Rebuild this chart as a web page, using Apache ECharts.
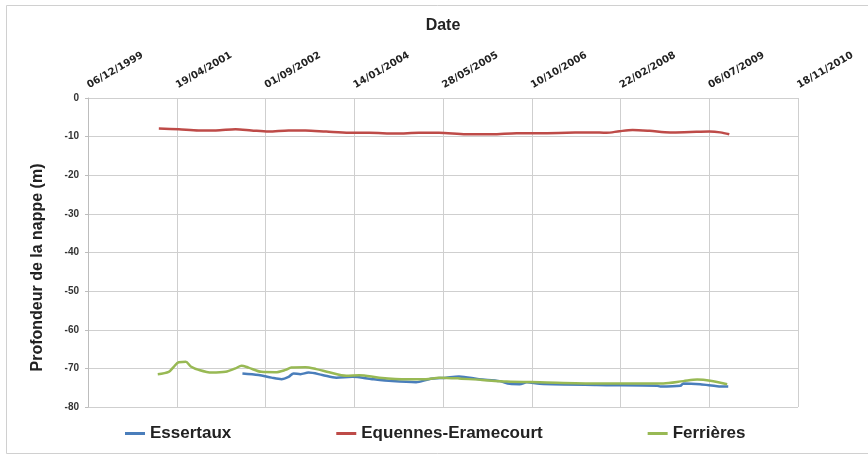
<!DOCTYPE html>
<html><head><meta charset="utf-8">
<script src="https://cdn.jsdelivr.net/npm/echarts@6/dist/echarts.min.js"></script>
<style>html,body{margin:0;padding:0;background:#fff;overflow:hidden}#c{width:868px;height:461px}</style>
</head><body><div id="c"></div>
<script>
// Date tick labels (top axis), every 500 days
const tickLabels = ['06/12/1999','19/04/2001','01/09/2002','14/01/2004','28/05/2005','10/10/2006','22/02/2008','06/07/2009','18/11/2010'];
const yTicks = [0,-10,-20,-30,-40,-50,-60,-70,-80];

const essertauxDates = ['2002-04-24','2002-07-24','2002-10-05','2002-11-30','2003-01-09','2003-02-06','2003-03-17','2003-05-01','2003-07-18','2003-10-05','2004-01-03','2004-04-24','2004-08-14','2004-12-27','2005-03-10','2005-06-14','2005-08-26','2005-12-17','2006-04-13','2006-06-08','2006-08-03','2006-09-12','2006-11-24','2007-10-10','2008-09-16','2008-10-03','2009-01-24','2009-02-10','2009-05-16','2009-08-20','2009-10-21'];
const essertauxValues = [-71.3,-71.7,-72.4,-72.8,-72.2,-71.3,-71.5,-71.1,-71.7,-72.4,-72.2,-72.8,-73.3,-73.6,-72.8,-72.4,-72.1,-72.8,-73.3,-74.0,-74.1,-73.6,-74.0,-74.3,-74.5,-74.7,-74.5,-73.9,-74.1,-74.6,-74.7];

const equennesDates = ['2001-01-08','2001-04-30','2001-08-21','2001-11-25','2002-03-16','2002-06-14','2002-09-18','2003-01-09','2003-04-14','2003-08-09','2003-12-17','2004-04-08','2004-09-05','2005-01-13','2005-05-05','2005-10-05','2006-02-28','2006-07-17','2006-11-24','2007-04-25','2007-09-17','2007-12-05','2008-02-16','2008-04-30','2008-08-03','2008-11-28','2009-03-21','2009-07-06','2009-09-06','2009-10-27'];
const equennesValues = [-7.9,-8.1,-8.4,-8.4,-8.1,-8.4,-8.7,-8.4,-8.4,-8.7,-9.0,-9.0,-9.2,-9.0,-9.0,-9.4,-9.4,-9.1,-9.1,-9.0,-8.9,-9.0,-8.6,-8.3,-8.5,-8.9,-8.8,-8.7,-8.9,-9.4];

const ferrieresDates = ['2001-01-02','2001-03-05','2001-04-02','2001-04-30','2001-06-09','2001-07-07','2001-08-21','2001-11-02','2002-01-19','2002-03-16','2002-04-19','2002-05-28','2002-08-09','2002-10-27','2002-12-23','2003-01-25','2003-04-14','2003-06-14','2003-08-26','2003-11-30','2004-02-11','2004-06-03','2004-11-01','2005-02-21','2005-05-05','2005-08-26','2006-01-03','2006-05-22','2006-11-24','2007-10-10','2008-10-20','2009-02-10','2009-04-29','2009-07-12','2009-10-15'];
const ferrieresValues = [-71.5,-70.9,-69.6,-68.4,-68.3,-69.5,-70.4,-71.1,-70.9,-70.0,-69.3,-69.8,-70.9,-71.0,-70.4,-69.8,-69.7,-70.2,-71.0,-71.9,-71.8,-72.4,-72.8,-72.8,-72.4,-72.6,-73.0,-73.4,-73.6,-73.9,-73.9,-73.3,-72.9,-73.2,-74.1];

const seriesNames = ['Essertaux','Equennes-Eramecourt','Ferrières'];
const colors = ['#4a7ebb','#be4b48','#98b954'];

const EPOCH = Date.UTC(1899,11,30);
function serial(s){const p=s.split('-');return Math.round((Date.UTC(+p[0],+p[1]-1,+p[2])-EPOCH)/86400000);}
function fmt(v){const d=new Date(EPOCH+v*86400000);const dd=String(d.getUTCDate()).padStart(2,'0');const mm=String(d.getUTCMonth()+1).padStart(2,'0');return dd+'/'+mm+'/'+d.getUTCFullYear();}
function pairs(ds,vs){return ds.map((d,i)=>[serial(d),vs[i]]);}

const xMin = serial('1999-12-06'), xMax = serial('2010-11-18');
const chart = echarts.init(document.getElementById('c'));
const font = 'Liberation Sans';
chart.setOption({
  animation:false,
  backgroundColor:'#fff',
  graphic:[{type:'rect',shape:{x:6.5,y:5.5,width:900,height:448},style:{fill:'none',stroke:'#d0d0d0',lineWidth:1},silent:true}],
  grid:{left:88,right:70,top:98,bottom:54},
  legend:{left:120,top:420,itemGap:105,itemWidth:20,itemHeight:3,icon:'rect',
    textStyle:{fontFamily:font,fontWeight:'bold',fontSize:17,color:'#222'},
    data:seriesNames},
  xAxis:{type:'value',position:'top',min:xMin,max:xMax,interval:500,
    name:'Date',nameLocation:'middle',nameGap:64,
    nameTextStyle:{fontFamily:font,fontWeight:'bold',fontSize:16,color:'#222'},
    axisLine:{show:false},axisTick:{show:false},
    axisLabel:{rotate:30,margin:12,fontFamily:'DejaVu Sans',fontWeight:'bold',fontSize:10,color:'#222',formatter:v=>fmt(v)},
    splitLine:{show:true,lineStyle:{color:'#cfcfcf',width:1}}},
  yAxis:{type:'value',min:-80,max:0,interval:10,
    name:'Profondeur de la nappe (m)',nameLocation:'middle',nameGap:42,
    nameTextStyle:{fontFamily:font,fontWeight:'bold',fontSize:16,color:'#222',padding:[0,30,0,0]},
    axisLine:{show:true,lineStyle:{color:'#bdbdbd'}},axisTick:{show:true,length:3,lineStyle:{color:'#bdbdbd'}},
    axisLabel:{margin:9,fontFamily:font,fontWeight:'bold',fontSize:10,color:'#333'},
    splitLine:{show:true,lineStyle:{color:'#cfcfcf',width:1}}},
  series:[
    {name:seriesNames[0],type:'line',data:pairs(essertauxDates,essertauxValues),showSymbol:false,smooth:0.3,lineStyle:{width:2.5,color:colors[0]},itemStyle:{color:colors[0]}},
    {name:seriesNames[1],type:'line',data:pairs(equennesDates,equennesValues),showSymbol:false,smooth:0.3,lineStyle:{width:2.5,color:colors[1]},itemStyle:{color:colors[1]}},
    {name:seriesNames[2],type:'line',data:pairs(ferrieresDates,ferrieresValues),showSymbol:false,smooth:0.3,lineStyle:{width:2.5,color:colors[2]},itemStyle:{color:colors[2]}}
  ]
});
</script></body></html>
